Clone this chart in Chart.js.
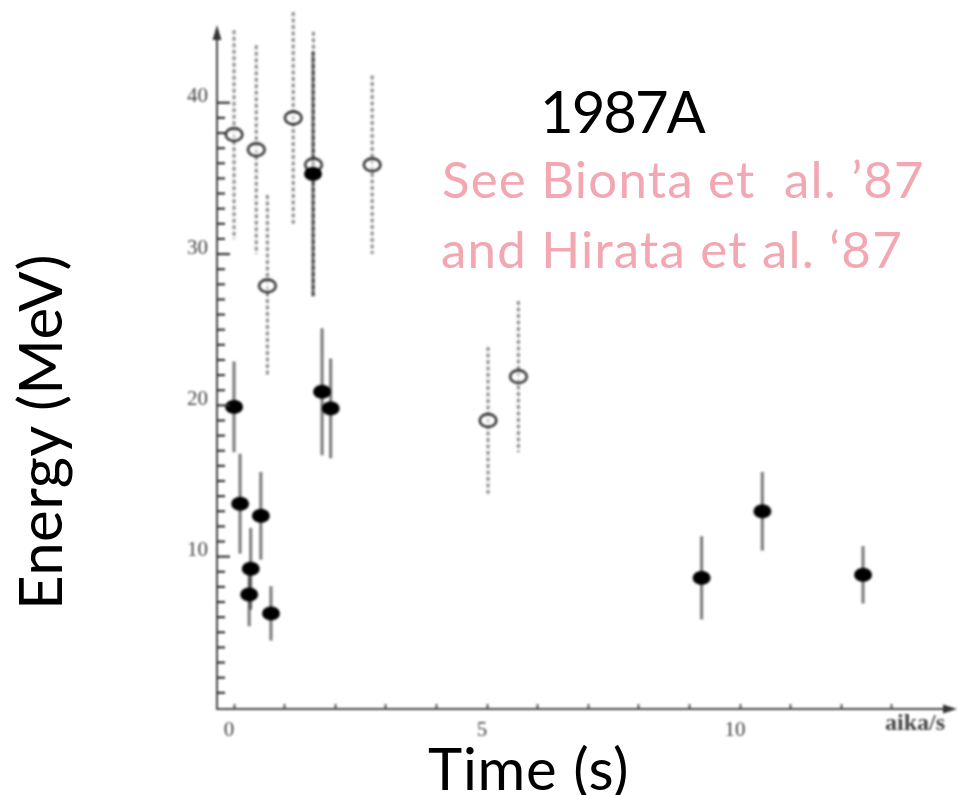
<!DOCTYPE html>
<html>
<head>
<meta charset="utf-8">
<script src="https://cdn.jsdelivr.net/npm/chart.js@4.4.1/dist/chart.umd.min.js"></script>
<style>
  html, body { margin: 0; padding: 0; background: #fff; }
  #wrap { position: relative; width: 958px; height: 795px; overflow: hidden; }
  #plot { position: absolute; left: 0; top: 0; filter: blur(0.8px); }
  .lbl { position: absolute; font-family: Lato, sans-serif; line-height: 1; white-space: pre; color: #000; }
  #ylab { left: 9px; top: 610px; font-size: 60px; letter-spacing: 0.4px; transform-origin: 0 0; transform: rotate(-90deg); }
  #xlab { left: 428px; top: 739px; font-size: 58px; letter-spacing: 0.8px; }
  #year { left: 540px; top: 82px; font-size: 58px; letter-spacing: -2px; }
  .ref { font-size: 51px; color: #f2a7b2; letter-spacing: 1.2px; }
  #ref1 { left: 442px; top: 153px; }
  #ref2 { left: 441px; top: 223px; }
</style>
</head>
<body>
<div id="wrap">
  <canvas id="plot" width="958" height="795"></canvas>
  <div class="lbl" id="ylab">Energy (MeV)</div>
  <div class="lbl" id="xlab">Time (s)</div>
  <div class="lbl" id="year">1987A</div>
  <div class="lbl ref" id="ref1">See Bionta et  al. ’87</div>
  <div class="lbl ref" id="ref2">and Hirata et al. ‘87</div>
</div>
<script>
// Kamiokande events (filled markers, solid error bars)
const kamTime = [0, 0.12, 0.30, 0.33, 0.53, 0.73, 1.56, 1.74, 1.91, 9.24, 10.44, 12.43];
const kamEnergy = [19.9, 13.5, 7.5, 9.2, 12.7, 6.25, 35.3, 20.9, 19.8, 8.6, 13.0, 8.8];
const kamError = [3.0, 3.3, 2.1, 2.7, 2.9, 1.8, 8.1, 4.2, 3.3, 2.75, 2.6, 1.9];

// IMB events (open markers, dashed error bars)
const imbTime = [0, 0.44, 0.66, 1.17, 1.57, 2.73, 5.02, 5.62];
const imbEnergy = [37.9, 36.9, 27.9, 39.0, 35.9, 35.9, 19.0, 21.9];
const imbError = [6.9, 6.9, 6.0, 7.0, 8.8, 5.9, 4.85, 5.0];

const xLabelTicks = [0, 5, 10];
const yLabelTicks = [10, 20, 30, 40];
const xUnit = 'aika/s';

const xMin = -0.336, xMax = 14.05;
const yMin = -0.07, yMax = 44.28;

// one small tick per MeV up to the last labelled value
const yMinorTicks = [];
for (let v = 1; v <= 40; v++) yMinorTicks.push(v);

function toPoints(t, e, err) {
    return t.map((v, i) => ({ x: v, y: e[i], err: err[i] }));
}

// small ellipse sprites for the markers
function marker(filled) {
    const c = document.createElement('canvas');
    c.width = 22;
    c.height = 18;
    const g = c.getContext('2d');
    g.beginPath();
    if (filled) {
        g.ellipse(11, 9, 9, 7, 0, 0, Math.PI * 2);
        g.fillStyle = '#000';
        g.fill();
    } else {
        g.ellipse(11, 9, 8.3, 6.4, 0, 0, Math.PI * 2);
        g.fillStyle = 'rgba(255,255,255,0.55)';
        g.fill();
        g.lineWidth = 2.6;
        g.strokeStyle = '#333';
        g.stroke();
    }
    return c;
}

// vertical error bars, drawn under the markers
const errorBars = {
    id: 'errorBars',
    beforeDatasetsDraw(chart) {
        const ctx = chart.ctx;
        const xs = chart.scales.x;
        const ys = chart.scales.y;
        chart.data.datasets.slice().reverse().forEach(ds => {
            ctx.save();
            ctx.strokeStyle = ds.barColor;
            ctx.lineWidth = 3.2;
            ctx.setLineDash(ds.barDash);
            ds.data.forEach(p => {
                const px = xs.getPixelForValue(p.x);
                ctx.beginPath();
                ctx.moveTo(px, ys.getPixelForValue(p.y + p.err));
                ctx.lineTo(px, ys.getPixelForValue(p.y - p.err));
                ctx.stroke();
            });
            ctx.restore();
        });
    }
};

// inward tick marks on the energy axis, longer at the labelled values
const yTickMarks = {
    id: 'yTickMarks',
    afterDraw(chart) {
        const ctx = chart.ctx;
        const ys = chart.scales.y;
        const x0 = chart.chartArea.left;
        ctx.save();
        ctx.strokeStyle = '#333';
        ctx.lineWidth = 2.2;
        yMinorTicks.forEach(v => {
            const py = ys.getPixelForValue(v);
            const len = yLabelTicks.includes(v) ? 13 : 8;
            ctx.beginPath();
            ctx.moveTo(x0, py);
            ctx.lineTo(x0 + len, py);
            ctx.stroke();
        });
        ctx.restore();
    }
};

// arrow heads at the ends of both axes
const axisArrows = {
    id: 'axisArrows',
    afterDraw(chart) {
        const ctx = chart.ctx;
        const a = chart.chartArea;
        ctx.save();
        ctx.fillStyle = '#333';
        ctx.beginPath();
        ctx.moveTo(a.left, a.top - 13);
        ctx.lineTo(a.left - 4.5, a.top + 2);
        ctx.lineTo(a.left + 4.5, a.top + 2);
        ctx.closePath();
        ctx.fill();
        ctx.beginPath();
        ctx.moveTo(a.right + 12, a.bottom);
        ctx.lineTo(a.right - 2, a.bottom - 4.5);
        ctx.lineTo(a.right - 2, a.bottom + 4.5);
        ctx.closePath();
        ctx.fill();
        ctx.restore();
    }
};

const tickFont = { family: 'Liberation Serif', size: 21 };

new Chart(document.getElementById('plot'), {
    type: 'scatter',
    data: {
        datasets: [
            {
                label: 'Kamiokande',
                data: toPoints(kamTime, kamEnergy, kamError),
                pointStyle: marker(true),
                barColor: 'rgba(0,0,0,0.5)',
                barDash: []
            },
            {
                label: 'IMB',
                data: toPoints(imbTime, imbEnergy, imbError),
                pointStyle: marker(false),
                barColor: 'rgba(0,0,0,0.42)',
                barDash: [4, 2.5]
            }
        ]
    },
    options: {
        responsive: false,
        animation: false,
        events: [],
        layout: { padding: { left: 160, top: 38, right: 13, bottom: 56 } },
        plugins: { legend: { display: false }, tooltip: { enabled: false } },
        scales: {
            x: {
                type: 'linear',
                min: xMin,
                max: xMax,
                afterFit(s) { s.height = 30; },
                border: { color: '#444', width: 2 },
                grid: {
                    drawOnChartArea: false,
                    tickLength: -5,
                    tickWidth: 2,
                    tickColor: c => (c.tick && c.tick.value > 13) ? 'rgba(0,0,0,0)' : '#555'
                },
                ticks: {
                    stepSize: 1,
                    maxTicksLimit: 1000,
                    autoSkip: false,
                    includeBounds: false,
                    maxRotation: 0,
                    padding: 14,
                    labelOffset: -5,
                    color: '#444',
                    font: tickFont,
                    callback: v => xLabelTicks.includes(v) ? String(v) : ''
                },
                title: {
                    display: true,
                    text: xUnit,
                    align: 'end',
                    color: '#444',
                    font: { family: 'Liberation Serif', size: 24, weight: 'bold' },
                    padding: { top: 0, bottom: 1 }
                }
            },
            // axis line and the labels every 10 MeV
            y: {
                type: 'linear',
                min: yMin,
                max: yMax,
                afterFit(s) { s.width = 57; },
                afterBuildTicks(s) { s.ticks = yLabelTicks.map(v => ({ value: v })); },
                border: { color: '#444', width: 2 },
                grid: { drawOnChartArea: false, drawTicks: false },
                ticks: {
                    autoSkip: false,
                    padding: 9,
                    labelOffset: -6,
                    color: '#444',
                    font: tickFont
                }
            }
        }
    },
    plugins: [errorBars, yTickMarks, axisArrows]
});
</script>
</body>
</html>
